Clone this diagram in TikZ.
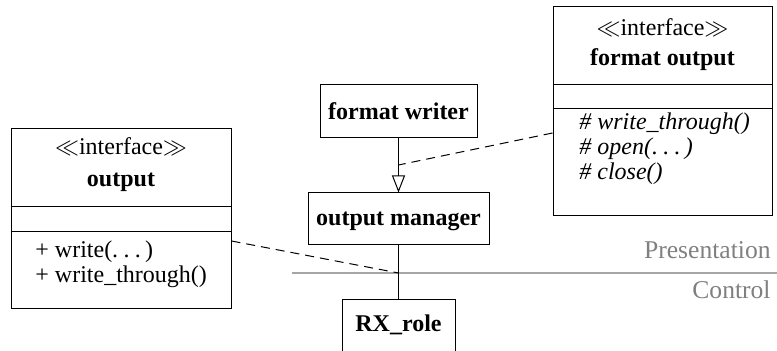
\documentclass[tikz,border=0pt]{standalone}
\usepackage{fontspec}
\setmainfont{Liberation Serif}
\usetikzlibrary{arrows.meta}
\newcommand\spdots{.\kern.22em.\kern.22em.\kern.18em}
\tikzset{
  box/.style={draw, line width=0.5pt, inner sep=0pt},
  txt/.style={anchor=base, inner sep=0pt, font=\fontsize{12}{14}\selectfont},
  meth/.style={anchor=base west, inner sep=0pt, font=\fontsize{12}{14}\selectfont},
  layer/.style={anchor=base east, inner sep=0pt, text=black!50, font=\fontsize{12.8}{15}\selectfont},
  assoc/.style={line width=0.5pt, dash pattern=on 4.5pt off 3pt},
  gen/.style={line width=0.5pt, -{Triangle[open, length=8.5pt, width=6.5pt]}},
}
\begin{document}
\begin{tikzpicture}[x=0.5pt, y=-0.5pt]
\useasboundingbox (0,0) rectangle (777,351);

% layer boundary
\coordinate (bl) at (292,273);
\coordinate (br) at (777,273);
\draw[black!35, line width=0.8pt] (bl) -- (br);
\node[layer] (pres) at (771,259) {Presentation};
\node[layer] (ctrl) at (771,299) {Control};

% interface: format output
\node[box, minimum width=109.5pt, minimum height=104.5pt] (fo) at (662.5,111.5) {};
\draw[line width=0.5pt] (fo.west |- 0,85) -- (fo.east |- 0,85);
\draw[line width=0.5pt] (fo.west |- 0,109) -- (fo.east |- 0,109);
\node[txt] (fost) at (662.5,36) {$\ll$interface$\gg$};
\node[txt] (foname) at (662.5,66) {\textbf{format output}};
\node[meth] (fom1) at (579,130) {\itshape \# write\_through()};
\node[meth] (fom2) at (579,155) {\itshape \# open(\spdots)};
\node[meth] (fom3) at (579,180) {\itshape \# close()};

% interface: output
\node[box, minimum width=110pt, minimum height=90pt] (out) at (121,219) {};
\draw[line width=0.5pt] (out.west |- 0,207) -- (out.east |- 0,207);
\draw[line width=0.5pt] (out.west |- 0,232) -- (out.east |- 0,232);
\node[txt] (outst) at (121,155) {$\ll$interface$\gg$};
\node[txt] (outname) at (121,187) {\textbf{output}};
\node[meth] (outm1) at (35,258) {+ write(\spdots)};
\node[meth] (outm2) at (35,283) {+ write\_through()};

% classes
\node[box, minimum width=78.5pt, minimum height=26.5pt] (fw) at (398.5,111.5) {};
\node[txt] (fwname) at (398.5,120) {\textbf{format writer}};
\node[box, minimum width=90.5pt, minimum height=26pt] (om) at (398.5,219) {};
\node[txt] (omname) at (398.5,226) {\textbf{output manager}};
\node[box, minimum width=56.5pt, minimum height=31pt] (rx) at (398.5,331) {};
\node[txt] (rxname) at (398.5,332) {\textbf{RX\_role}};

% connectors
\draw[gen] (fw) -- (om);
\draw[line width=0.5pt] (om) -- (rx);
\coordinate (gm) at (398.5,165);
\coordinate (cross) at (om.south |- bl);
\draw[assoc] (fo.west |- 0,133) -- (gm);
\draw[assoc] (out.east |- 0,241) -- (cross);
\end{tikzpicture}
\end{document}
